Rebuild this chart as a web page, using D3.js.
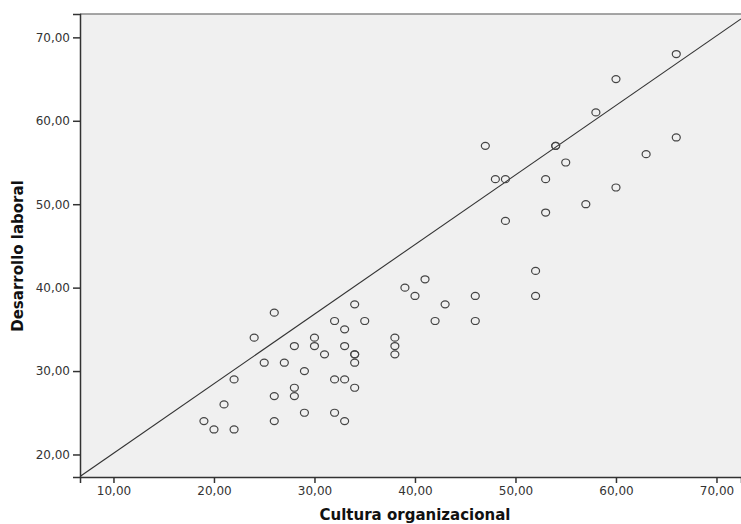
<!DOCTYPE html>
<html>
<head>
<meta charset="utf-8">
<script src="https://cdn.jsdelivr.net/npm/d3@7"></script>
<style>
  body { margin: 0; background: #fff; }
  svg { display: block; font-family: "DejaVu Sans", Verdana, sans-serif; }
</style>
</head>
<body>
<div id="chart"></div>
<script>
// Cultura organizacional (x) vs Desarrollo laboral (y)
const cultura = [19, 20, 21, 22, 22, 24, 25, 26, 26, 26, 27, 28, 28, 28, 29, 29, 30, 30, 31, 32,
  32, 32, 33, 33, 33, 33, 34, 34, 34, 34, 34, 35, 38, 38, 38, 39, 40, 41, 42, 43,
  46, 46, 47, 48, 49, 49, 52, 52, 53, 53, 54, 54, 55, 57, 58, 60, 60, 63, 66, 66];
const desarrollo = [24, 23, 26, 29, 23, 34, 31, 37, 27, 24, 31, 33, 28, 27, 30, 25, 34, 33, 32, 36,
  29, 25, 35, 33, 29, 24, 38, 32, 32, 31, 28, 36, 34, 33, 32, 40, 39, 41, 36, 38,
  39, 36, 57, 53, 53, 48, 42, 39, 53, 49, 57, 57, 55, 50, 61, 65, 52, 56, 68, 58];
const xTicks = [10, 20, 30, 40, 50, 60, 70];
const yTicks = [20, 30, 40, 50, 60, 70];
const fitIntercept = 11.8, fitSlope = 0.834;

const width = 741, height = 524;
const m = { left: 80, right: 741, top: 14, bottom: 477 };

const svg = d3.select("#chart").append("svg")
  .attr("width", width).attr("height", height);

const x = d3.scaleLinear().domain([6.67, 72.44]).range([m.left, m.right]);
const y = d3.scaleLinear().domain([17.3, 72.8]).range([m.bottom, m.top]);

const fmt = d => d3.format(".2f")(d).replace(".", ",");

svg.append("rect")
  .attr("x", m.left).attr("y", m.top)
  .attr("width", m.right - m.left).attr("height", m.bottom - m.top)
  .attr("fill", "#f0f0f0");

svg.append("clipPath").attr("id", "clip")
  .append("rect")
  .attr("x", m.left).attr("y", m.top)
  .attr("width", m.right - m.left).attr("height", m.bottom - m.top);

// top border
svg.append("line")
  .attr("x1", m.left).attr("x2", m.right).attr("y1", m.top).attr("y2", m.top)
  .attr("stroke", "#888").attr("stroke-width", 1.5);

// fit line
svg.append("line")
  .attr("clip-path", "url(#clip)")
  .attr("x1", x(x.domain()[0])).attr("y1", y(fitIntercept + fitSlope * x.domain()[0]))
  .attr("x2", x(x.domain()[1])).attr("y2", y(fitIntercept + fitSlope * x.domain()[1]))
  .attr("stroke", "#333").attr("stroke-width", 1.1);

// points
svg.append("g")
  .selectAll("ellipse")
  .data(cultura.map((c, i) => [c, desarrollo[i]]))
  .enter().append("ellipse")
  .attr("cx", d => x(d[0]))
  .attr("cy", d => y(d[1]))
  .attr("rx", 4).attr("ry", 3.5)
  .attr("fill", "none")
  .attr("stroke", "#444")
  .attr("stroke-width", 1.2);

const xAxis = svg.append("g")
  .attr("transform", `translate(0,${m.bottom})`)
  .call(d3.axisBottom(x).tickValues(xTicks).tickFormat(fmt).tickSizeOuter(0).tickSize(6).tickPadding(3));

const yAxis = svg.append("g")
  .attr("transform", `translate(${m.left},0)`)
  .call(d3.axisLeft(y).tickValues(yTicks).tickFormat(fmt).tickSizeOuter(0).tickSize(7).tickPadding(3));

[xAxis, yAxis].forEach(a => {
  a.attr("font-family", null);
  a.select(".domain").attr("stroke", "#333").attr("stroke-width", 1.5);
  a.selectAll(".tick line").attr("stroke", "#333").attr("stroke-width", 1.5);
  a.selectAll(".tick text").attr("fill", "#333").style("font-size", "12px");
});

svg.append("text")
  .attr("x", 415).attr("y", 520)
  .attr("text-anchor", "middle")
  .style("font-size", "15px").style("font-weight", "bold").attr("fill", "#111")
  .text("Cultura organizacional");

svg.append("text")
  .attr("transform", `translate(23,256) rotate(-90)`)
  .attr("text-anchor", "middle")
  .style("font-size", "15px").style("font-weight", "bold").attr("fill", "#111")
  .text("Desarrollo laboral");
</script>
</body>
</html>
